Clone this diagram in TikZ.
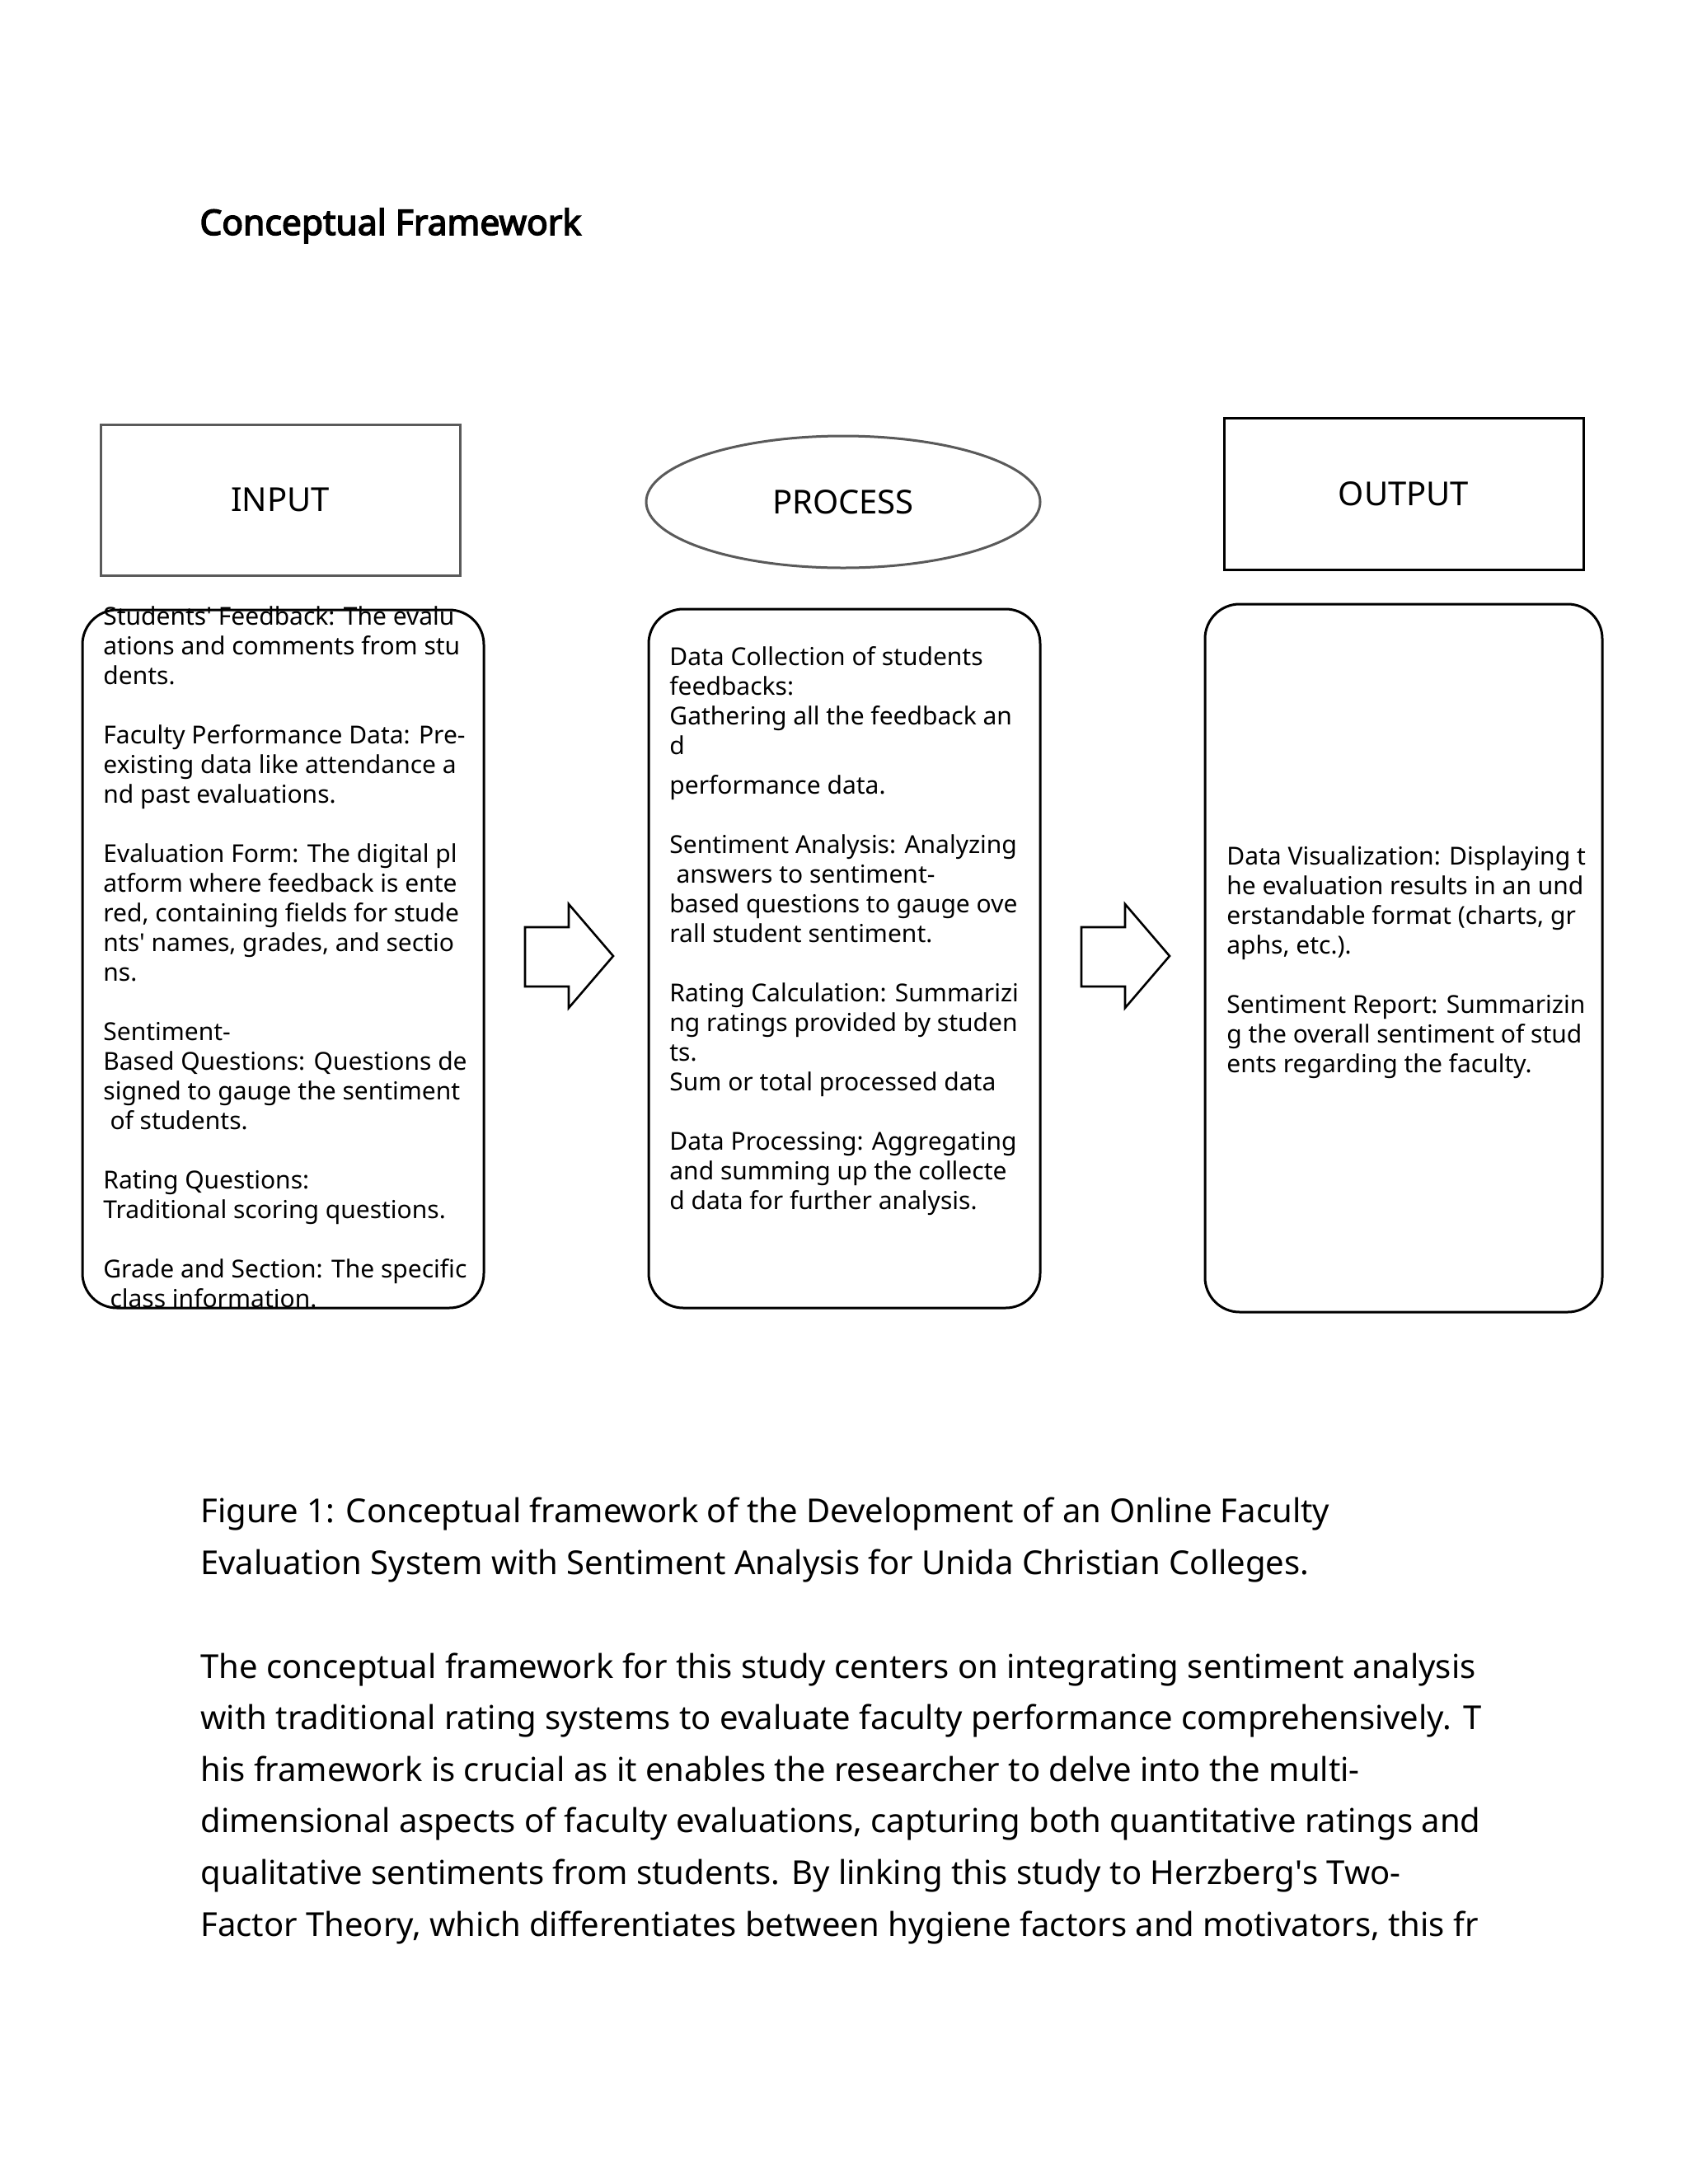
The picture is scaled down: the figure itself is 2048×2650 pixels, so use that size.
\documentclass[tikz,border=0pt]{standalone}
\usepackage{fontspec}
\setmainfont{Noto Sans}
\newfontfamily\titlefont{Noto Sans}[FakeBold=3.5]
\usetikzlibrary{shapes.geometric}
\definecolor{headgray}{RGB}{90,90,90}
\begin{document}
\begin{tikzpicture}[x=0.5pt,y=-0.5pt,
  headbox/.style={draw=#1,line width=1.5pt,inner sep=0pt,font=\fontsize{20}{24}\selectfont},
  roundbox/.style={draw=black,line width=1.5pt,rounded corners=21pt,inner sep=0pt},
  boxtext/.style={anchor=base west,inner sep=0pt,align=left,font=\fontsize{15}{18}\selectfont},
  bodypara/.style={anchor=base west,inner sep=0pt,align=left,font=\fontsize{20}{31.3}\selectfont},
  blockarrow/.style={draw=black,line width=1.3pt,fill=white,line join=miter}]
\useasboundingbox (0,0) rectangle (2048,2650);
\fill[white] (0,0) rectangle (2048,2650);

\node[anchor=base west,inner sep=0pt,font=\fontsize{21.3}{25}\titlefont] (title) at (242,285) {Conceptual Framework};

% header shapes
\node[headbox=headgray,rectangle,minimum width=218pt,minimum height=91.5pt] (input) at (340,606.5) {INPUT};
\node[headbox=headgray,ellipse,minimum width=239pt,minimum height=80pt] (process) at (1023,609) {PROCESS};
\node[headbox=black,rectangle,minimum width=218pt,minimum height=92pt] (output) at (1703,599) {OUTPUT};

% rounded content boxes
\node[roundbox,minimum width=243.5pt,minimum height=423.5pt] (inbox) at (343.5,1163.5) {};
\node[roundbox,minimum width=237.5pt,minimum height=424pt] (procbox) at (1024.5,1163) {};
\node[roundbox,minimum width=241pt,minimum height=429.5pt] (outbox) at (1703,1162.5) {};

% texts (anchor base = baseline of the last line)
\node[boxtext] (intext) at (125,1586) {Students\textquotesingle{} Feedback: The evalu\\
ations and comments from stu\\
dents.\\
~\\
Faculty Performance Data: Pre-\\
existing data like attendance a\\
nd past evaluations.\\
~\\
Evaluation Form: The digital pl\\
atform where feedback is ente\\
red, containing fields for stude\\
nts\textquotesingle{} names, grades, and sectio\\
ns.\\
~\\
Sentiment-\\
Based Questions: Questions de\\
signed to gauge the sentiment\\
\hspace*{0.27em}of students.\\
~\\
Rating Questions:\\
Traditional scoring questions.\\
~\\
Grade and Section: The specific\\
\hspace*{0.27em}class information.};

\node[boxtext] (proctext) at (812,1467) {Data Collection of students\\
feedbacks:\\
Gathering all the feedback an\\
d\\[6pt]
performance data.\\
~\\
Sentiment Analysis: Analyzing\\
\hspace*{0.27em}answers to sentiment-\\
based questions to gauge ove\\
rall student sentiment.\\
~\\
Rating Calculation: Summarizi\\
ng ratings provided by studen\\
ts.\\
Sum or total processed data\\
~\\
Data Processing: Aggregating\\
and summing up the collecte\\
d data for further analysis.};

\node[boxtext] (outtext) at (1488,1301) {Data Visualization: Displaying t\\
he evaluation results in an und\\
erstandable format (charts, gr\\
aphs, etc.).\\
~\\
Sentiment Report: Summarizin\\
g the overall sentiment of stud\\
ents regarding the faculty.};

% block arrows
\coordinate (a1) at (637,1161);
\coordinate (a2) at (1312,1161);
\draw[blockarrow] (a1) ++(0,-36) -- ++(53,0) -- ++(0,-28) -- ++(54,63) -- ++(-54,63) -- ++(0,-26) -- ++(-53,0) -- cycle;
\draw[blockarrow] (a2) ++(0,-36) -- ++(53,0) -- ++(0,-28) -- ++(54,63) -- ++(-54,63) -- ++(0,-26) -- ++(-53,0) -- cycle;

% caption and paragraph
\node[bodypara] (caption) at (243,1910) {Figure 1: Conceptual framework of the Development of an Online Faculty\\
Evaluation System with Sentiment Analysis for Unida Christian Colleges.};

\node[bodypara] (para) at (243,2349) {The conceptual framework for this study centers on integrating sentiment analysis\\
with traditional rating systems to evaluate faculty performance comprehensively. T\\
his framework is crucial as it enables the researcher to delve into the multi-\\
dimensional aspects of faculty evaluations, capturing both quantitative ratings and\\
qualitative sentiments from students. By linking this study to Herzberg\textquotesingle{}s Two-\\
Factor Theory, which differentiates between hygiene factors and motivators, this fr};
\end{tikzpicture}
\end{document}
